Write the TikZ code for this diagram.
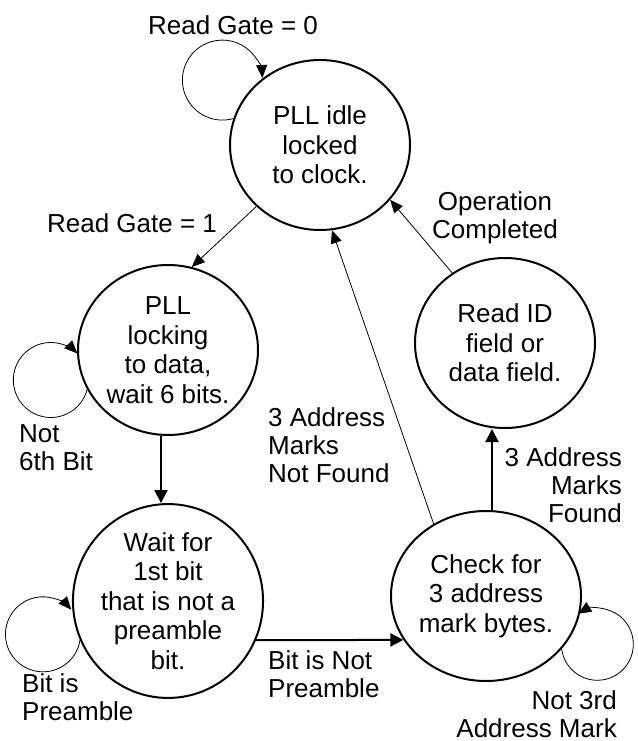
\documentclass[tikz,border=0pt]{standalone}
\usepackage{fontspec}
\setmainfont{Liberation Sans}
\usetikzlibrary{shapes.geometric,arrows.meta}
\begin{document}
\begin{tikzpicture}[x=1pt,y=1pt,
  state/.style={ellipse,draw,line width=2pt,minimum width=180pt,minimum height=170pt,inner sep=0pt,align=center,font=\fontsize{26}{29.5}\selectfont},
  lbl/.style={inner sep=0pt,font=\fontsize{26}{28}\selectfont},
  thinarrow/.style={line width=0.8pt,-{Triangle[length=13pt,width=11pt]}},
  thickarrow/.style={line width=2pt,-{Triangle[length=13pt,width=13pt]}}
]
\useasboundingbox (0,0) rectangle (637,-741);
% states
\node[state] (A) at (320,-145) {PLL idle\\locked\\to clock.};
\node[state] (B) at (168,-350) {PLL\\locking\\to data,\\wait 6 bits.};
\node[state] (C) at (168,-601) {Wait for\\1st bit\\that is not a\\preamble\\bit.};
\node[state] (D) at (486,-596) {Check for\\3 address\\mark bytes.};
\node[state] (E) at (505,-343) {Read ID\\field or\\data field.};
% self loops
\draw[thinarrow] (A.163) arc[start angle=-74, end angle=-357, radius=40];
\draw[thinarrow] (B.206) arc[start angle=-14.6, end angle=-315, radius=37.5];
\draw[thinarrow] (C.204) arc[start angle=-9, end angle=-319, radius=37.5];
\draw[thinarrow] (D.-35) arc[start angle=187.5, end angle=482, radius=36];
% transitions
\draw[thinarrow] (A.224) -- (B.74);
\draw[thickarrow] ([xshift=-7pt]B.south) -- ([xshift=-7pt]C.north);
\draw[thickarrow] (C.-24) -- (D.208);
\draw[thickarrow] ([xshift=6pt]D.north) -- ([xshift=-13pt]E.south);
\draw[thinarrow] (D.126) -- (A.-82);
\draw[thinarrow] (E.127) -- (A.-38.5);
% labels
\node[lbl,anchor=north] (l0) at (233,-15) {Read Gate = 0};
\node[lbl,anchor=north] (l1) at (132,-213) {Read Gate = 1};
\node[lbl,anchor=north west,align=left] (l2) at (19,-424) {Not\\6th Bit};
\node[lbl,anchor=north west,align=left] (l3) at (22,-673) {Bit is\\Preamble};
\node[lbl,anchor=north west,align=left] (l4) at (268,-650) {Bit is Not\\Preamble};
\node[lbl,anchor=north west,align=left] (l5) at (268,-407) {3 Address\\Marks\\Not Found};
\node[lbl,anchor=north,align=center] (l6) at (495,-191) {Operation\\Completed};
\node[lbl,anchor=north east,align=right] (l7) at (622,-447) {3 Address\\Marks\\Found};
\node[lbl,anchor=north east,align=right] (l8) at (617,-690) {Not 3rd\\Address Mark};
\end{tikzpicture}
\end{document}
